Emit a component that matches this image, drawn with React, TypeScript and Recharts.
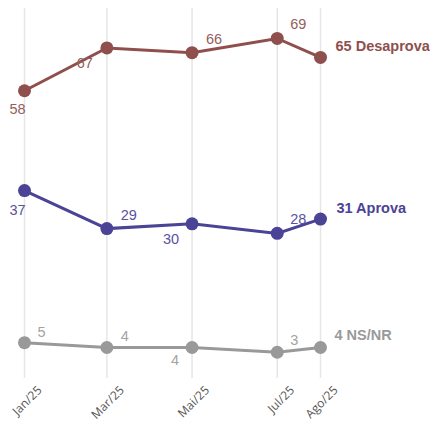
import React from 'react';
import { LineChart, Line, XAxis, YAxis, CartesianGrid, LabelList } from 'recharts';

// Survey rounds (days since 1 Jan 2025 give the time spacing on the x axis)
const monthLabels = ['Jan/25', 'Mar/25', 'Mai/25', 'Jul/25', 'Ago/25'];
const monthDays = [0, 59, 120, 181, 212];
const desaprova = [58, 67, 66, 69, 65];
const aprova = [37, 29, 30, 28, 31];
const nsnr = [5, 4, 4, 3, 4];

const seriesNames = { desaprova: 'Desaprova', aprova: 'Aprova', nsnr: 'NS/NR' };

const data = monthDays.map((d, i) => ({
  day: d,
  label: monthLabels[i],
  desaprova: desaprova[i],
  aprova: aprova[i],
  nsnr: nsnr[i],
}));

const COLORS = {
  desaprova: '#8e4f4d',
  aprova: '#4b4395',
  nsnr: '#999999',
};
const LABEL_COLORS = {
  desaprova: '#93605d',
  aprova: '#5a52a0',
  nsnr: '#a3a3a3',
};

// label offsets relative to each point [dx, dy]
const LABEL_OFFSETS: Record<string, number[][]> = {
  desaprova: [[-7, 18], [-22, 15], [22, -14], [21, -14], [15, -11]],
  aprova: [[-7, 19], [22, -14], [-21, 15], [21, -14], [16, -11]],
  nsnr: [[17, -11], [18, -11], [-17, 13], [17, -12], [14, -12]],
};

const makeLabel = (key: 'desaprova' | 'aprova' | 'nsnr') => (props: any) => {
  const { x, y, value, index } = props;
  const [dx, dy] = LABEL_OFFSETS[key][index];
  const last = index === monthDays.length - 1;
  if (last) {
    return (
      <text
        x={x + dx}
        y={y + dy}
        dominantBaseline="central"
        textAnchor="start"
        fontFamily="'Liberation Sans', Arial, sans-serif"
        fontWeight="bold"
        fontSize={14.5}
        fill={COLORS[key]}
      >
        {`${value} ${seriesNames[key]}`}
      </text>
    );
  }
  return (
    <text
      x={x + dx}
      y={y + dy}
      dominantBaseline="central"
      textAnchor="middle"
      fontFamily="'Liberation Sans', Arial, sans-serif"
      fontSize={14.5}
      fill={LABEL_COLORS[key]}
    >
      {value}
    </text>
  );
};

const XTick = (props: any) => {
  const { x, y, payload } = props;
  const idx = monthDays.indexOf(payload.value);
  return (
    <g transform={`translate(${x + 18},${y + 5})`}>
      <text
        x={0}
        y={0}
        textAnchor="end"
        transform="rotate(-45)"
        fontFamily="'Open Sans', sans-serif"
        fontSize={12}
        fill="#555555"
      >
        {monthLabels[idx]}
      </text>
    </g>
  );
};

export default function App() {
  return (
    <div style={{ width: 430, height: 417 }}>
      <LineChart
        width={430}
        height={417}
        data={data}
        margin={{ top: 0, right: 117.5, bottom: 7, left: 16.5 }}
        style={{ overflow: 'visible' }}
      >
        <CartesianGrid vertical horizontal={false} stroke="#e6e6e6" strokeWidth={1.5} />
        <XAxis
          dataKey="day"
          type="number"
          domain={[0, 212]}
          ticks={monthDays}
          axisLine={false}
          tickLine={false}
          height={40}
          interval={0}
          tick={<XTick />}
        />
        <YAxis hide type="number" domain={[-2.42, 75.4]} allowDataOverflow />
        <Line
          dataKey="desaprova"
          stroke={COLORS.desaprova}
          strokeWidth={3}
          dot={{ r: 6.5, fill: COLORS.desaprova, stroke: 'none' }}
          activeDot={false}
          isAnimationActive={false}
        >
          <LabelList dataKey="desaprova" content={makeLabel('desaprova')} />
        </Line>
        <Line
          dataKey="aprova"
          stroke={COLORS.aprova}
          strokeWidth={3}
          dot={{ r: 6.5, fill: COLORS.aprova, stroke: 'none' }}
          activeDot={false}
          isAnimationActive={false}
        >
          <LabelList dataKey="aprova" content={makeLabel('aprova')} />
        </Line>
        <Line
          dataKey="nsnr"
          stroke={COLORS.nsnr}
          strokeWidth={3}
          dot={{ r: 6.5, fill: COLORS.nsnr, stroke: 'none' }}
          activeDot={false}
          isAnimationActive={false}
        >
          <LabelList dataKey="nsnr" content={makeLabel('nsnr')} />
        </Line>
      </LineChart>
    </div>
  );
}
